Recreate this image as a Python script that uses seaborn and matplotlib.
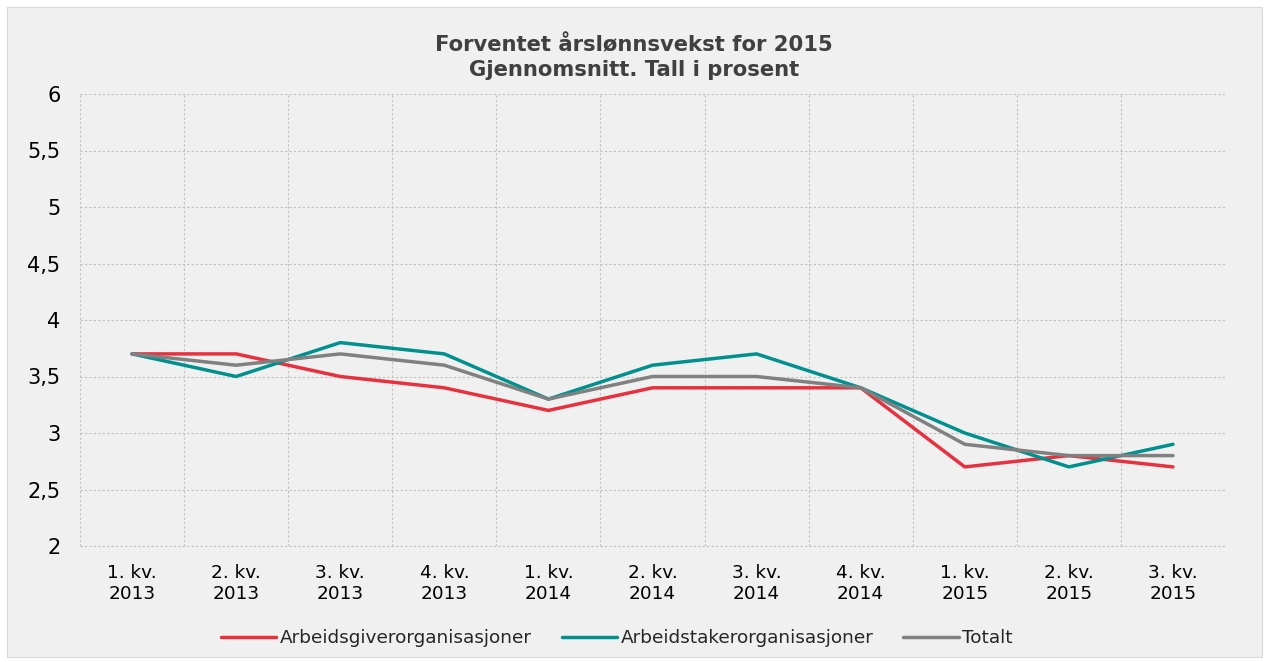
import pandas as pd
import matplotlib.pyplot as plt
import matplotlib.patches as mpatches
from matplotlib.ticker import FixedLocator, FuncFormatter
import seaborn as sns

# Data lest av figuren
kvartaler = ['1. kv.\n2013', '2. kv.\n2013', '3. kv.\n2013', '4. kv.\n2013',
             '1. kv.\n2014', '2. kv.\n2014', '3. kv.\n2014', '4. kv.\n2014',
             '1. kv.\n2015', '2. kv.\n2015', '3. kv.\n2015']
arbeidsgiver = [3.7, 3.7, 3.5, 3.4, 3.2, 3.4, 3.4, 3.4, 2.7, 2.8, 2.7]
arbeidstaker = [3.7, 3.5, 3.8, 3.7, 3.3, 3.6, 3.7, 3.4, 3.0, 2.7, 2.9]
totalt = [3.7, 3.6, 3.7, 3.6, 3.3, 3.5, 3.5, 3.4, 2.9, 2.8, 2.8]
serier = ['Arbeidsgiverorganisasjoner', 'Arbeidstakerorganisasjoner', 'Totalt']
farger = ['#e8313f', '#00918f', '#808080']

df = pd.DataFrame({
    'kvartal': list(range(len(kvartaler))) * 3,
    'verdi': arbeidsgiver + arbeidstaker + totalt,
    'serie': [s for s in serier for _ in kvartaler],
})

sns.set_theme(style='white')
plt.rcParams['font.family'] = ['DejaVu Sans']

fig = plt.figure(figsize=(12.68, 6.62), dpi=100, facecolor='white')
bg = mpatches.Rectangle((7 / 1268, 5 / 662), 1255 / 1268, 650 / 662,
                        transform=fig.transFigure, facecolor='#f0f0f0',
                        edgecolor='#d9d9d9', linewidth=0.8, zorder=-10)
fig.patches.append(bg)

ax = fig.add_axes([80 / 1268, 1 - 546 / 662, 1145 / 1268, 452 / 662])
ax.set_facecolor('#f0f0f0')

sns.lineplot(data=df, x='kvartal', y='verdi', hue='serie', hue_order=serier,
             palette=farger, linewidth=2.5, ax=ax, legend=True)

ax.set_xlim(-0.5, len(kvartaler) - 0.5)
ax.set_ylim(2, 6)
ax.set_yticks([2, 2.5, 3, 3.5, 4, 4.5, 5, 5.5, 6])
ax.yaxis.set_major_formatter(FuncFormatter(lambda v, p: f'{v:g}'.replace('.', ',')))
ax.set_xticks(range(len(kvartaler)))
ax.set_xticklabels(kvartaler)
ax.xaxis.set_minor_locator(FixedLocator([i - 0.5 for i in range(len(kvartaler) + 1)]))

grid_kw = dict(color='#c0c0c0', linestyle=(0, (2, 2)), linewidth=0.8)
ax.grid(True, which='major', axis='y', **grid_kw)
ax.grid(True, which='minor', axis='x', **grid_kw)
ax.grid(False, which='major', axis='x')
ax.axhline(2, clip_on=False, zorder=0.5, **grid_kw)
ax.tick_params(axis='both', which='both', length=0)
ax.tick_params(axis='y', labelsize=15, pad=14, labelcolor='#000000')
ax.tick_params(axis='x', labelsize=13.3, pad=13, labelcolor='#000000')
for s in ax.spines.values():
    s.set_visible(False)
ax.set_xlabel('')
ax.set_ylabel('')

fig.text(0.5, 1 - 45 / 662, 'Forventet årslønnsvekst for 2015', ha='center', va='center',
         fontsize=15.2, fontweight='bold', color='#404040')
fig.text(0.5, 1 - 70 / 662, 'Gjennomsnitt. Tall i prosent', ha='center', va='center',
         fontsize=15.2, fontweight='bold', color='#404040')

ax.legend(loc='center', bbox_to_anchor=(617 / 1268, 1 - 638 / 662), bbox_transform=fig.transFigure,
          ncol=3, frameon=False, fontsize=13.3, handlelength=3.0, handletextpad=0.2,
          columnspacing=1.6)

fig.savefig('out.png', dpi=100, facecolor='white')
